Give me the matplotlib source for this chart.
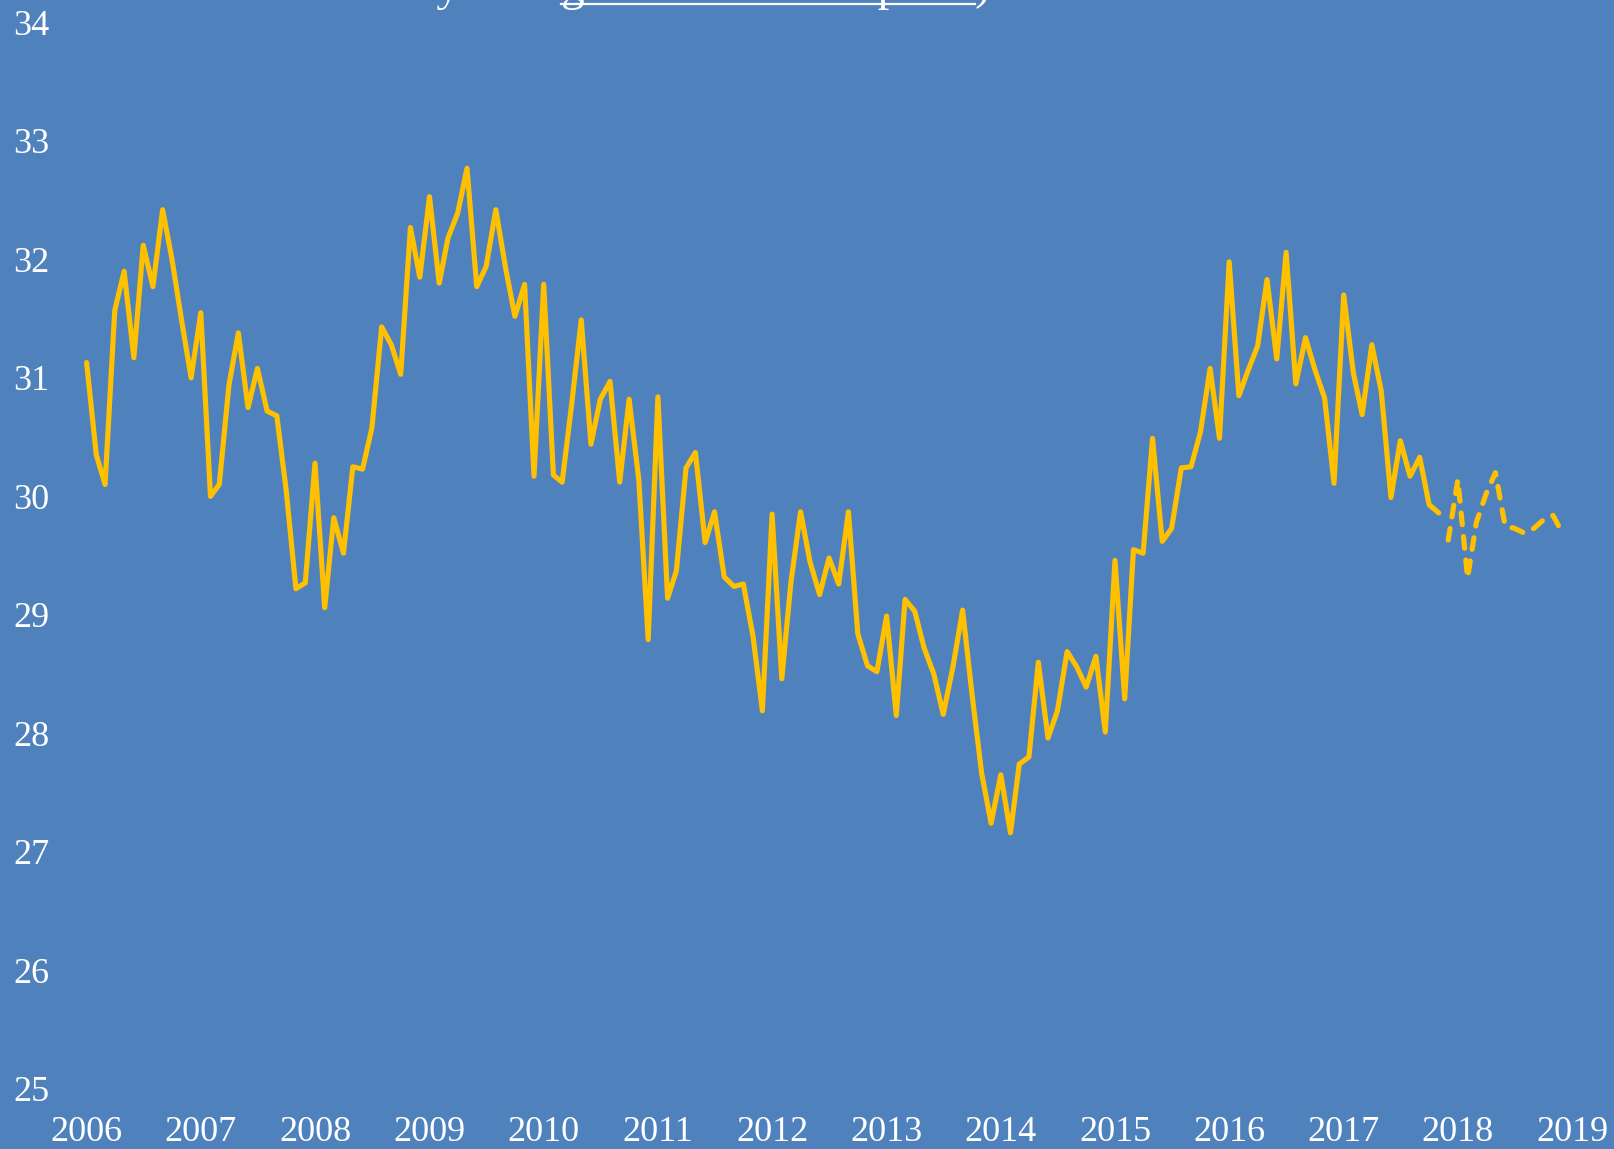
import matplotlib.pyplot as plt
import pandas as pd
from matplotlib.lines import Line2D

# 月次データ (2006-01 ～ 2017-11 実績, 2017-12 ～ 2018-12 予測)
actual = [
    31.13, 30.35, 30.10, 31.57, 31.90, 31.17, 32.12, 31.77, 32.42, 32.00, 31.48, 31.00,  # 2006
    31.55, 30.00, 30.10, 30.94, 31.38, 30.75, 31.08, 30.72, 30.68, 30.05, 29.22, 29.27,  # 2007
    30.28, 29.06, 29.82, 29.52, 30.25, 30.23, 30.58, 31.43, 31.28, 31.03, 32.27, 31.85,  # 2008
    32.53, 31.80, 32.18, 32.39, 32.77, 31.77, 31.94, 32.42, 31.93, 31.52, 31.79, 30.17,  # 2009
    31.79, 30.18, 30.12, 30.79, 31.49, 30.44, 30.82, 30.97, 30.12, 30.82, 30.14, 28.79,  # 2010
    30.84, 29.14, 29.37, 30.24, 30.37, 29.61, 29.87, 29.32, 29.24, 29.26, 28.82, 28.19,  # 2011
    29.85, 28.46, 29.27, 29.87, 29.45, 29.17, 29.48, 29.26, 29.87, 28.84, 28.57, 28.52,  # 2012
    28.99, 28.15, 29.13, 29.03, 28.72, 28.50, 28.16, 28.56, 29.04, 28.33, 27.66, 27.24,  # 2013
    27.65, 27.16, 27.74, 27.80, 28.60, 27.96, 28.19, 28.69, 28.56, 28.39, 28.65, 28.01,  # 2014
    29.46, 28.29, 29.55, 29.52, 30.49, 29.62, 29.73, 30.24, 30.25, 30.54, 31.08, 30.49,  # 2015
    31.98, 30.85, 31.06, 31.27, 31.83, 31.16, 32.06, 30.95, 31.34, 31.07, 30.83, 30.11,  # 2016
    31.70, 31.04, 30.69, 31.28, 30.89, 29.99, 30.47, 30.17, 30.33, 29.93, 29.86,         # 2017
]
forecast = [29.63,
            30.14, 29.31, 29.78, 30.02, 30.20, 29.75, 29.73, 29.69, 29.73, 29.80, 29.84, 29.69]

year_labels = [str(y) for y in range(2006, 2020)]
y_ticks = list(range(25, 35))

title_plain = "Inventory over"
title_link = "gasoline consumption"
title_end = ")"

BG = '#4F82BD'
LINE = '#FFC000'
FONT = 'Liberation Serif'

dates_actual = pd.date_range('2006-01-01', periods=len(actual), freq='MS')
dates_forecast = pd.date_range(dates_actual[-1] + pd.DateOffset(months=1), periods=len(forecast), freq='MS')

W, H = 1614, 1149
fig = plt.figure(figsize=(W / 100, H / 100), dpi=100, facecolor=BG)
ax = fig.add_axes([55 / W, (H - 1110) / H, 1 - 55 / W, 1110 / H])
ax.set_facecolor(BG)

ax.plot(dates_actual, actual, color=LINE, lw=3.7, solid_joinstyle='round', solid_capstyle='round')
ax.plot(dates_forecast, forecast, color=LINE, lw=3.7, linestyle=(0, (2.3, 2.3)),
        dash_capstyle='round', dash_joinstyle='round')

# 軸範囲 (2006年1月の位置と2019年の位置を合わせる)
ax.set_xlim(pd.Timestamp('2006-01-01') - pd.Timedelta(days=101),
            pd.Timestamp('2019-01-01') + pd.Timedelta(days=134))
ax.set_ylim(24.82, 34.19)

ax.set_xticks([pd.Timestamp(f'{y}-01-01') for y in year_labels])
ax.set_xticklabels(year_labels)
ax.set_yticks(y_ticks)
ax.set_yticklabels([str(v) for v in y_ticks])
ax.tick_params(axis='both', length=0, colors='white', labelsize=26)
ax.tick_params(axis='x', pad=4.0)
ax.tick_params(axis='y', pad=4.3)
for lbl in ax.get_xticklabels() + ax.get_yticklabels():
    lbl.set_fontfamily(FONT)
for s in ax.spines.values():
    s.set_visible(False)

# タイトル (上端で切れている)
ty = 1 + 0.5 / H
t_link = fig.text(561 / W, ty, title_link, color='white', fontsize=34, family=FONT, va='baseline', ha='left')
fig.text(556 / W, ty, title_plain, color='white', fontsize=34, family=FONT, va='baseline', ha='right')
fig.canvas.draw()
r = fig.canvas.get_renderer()
bb = t_link.get_window_extent(r)
fig.text(bb.x1 / W, ty, title_end, color='white', fontsize=34, family=FONT, va='baseline', ha='left')
uy = 1 - 4 / H
fig.add_artist(Line2D([bb.x0 / W, bb.x1 / W], [uy, uy], transform=fig.transFigure, color='white', lw=1.6))

fig.savefig('out.png', dpi=100, facecolor=BG)
